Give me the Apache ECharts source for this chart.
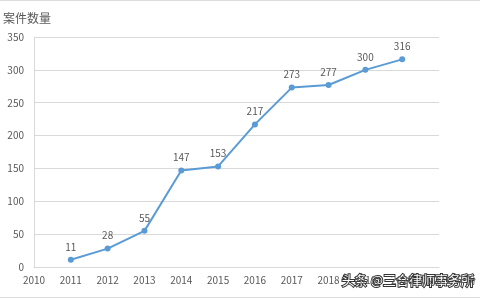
<!DOCTYPE html>
<html><head><meta charset="utf-8">
<script src="https://cdn.jsdelivr.net/npm/echarts@6/dist/echarts.min.js"></script>
<style>html,body{margin:0;padding:0;background:#fff}#c{width:480px;height:300px}</style>
</head><body><div id="c"></div>
<script>
var years = ['2010','2011','2012','2013','2014','2015','2016','2017','2018','2019','2020','2021'];
var cases = [null, 11, 28, 55, 147, 153, 217, 273, 277, 300, 316, null];
var yTicks = [0, 50, 100, 150, 200, 250, 300, 350];
var chart = echarts.init(document.getElementById('c'));
var font = '"Noto Sans CJK SC","Microsoft YaHei",sans-serif';
chart.setOption({
  animation: false,
  textStyle: {fontFamily: font},
  grid: {left: 33, right: 41, top: 37, bottom: 33},
  xAxis: {
    type: 'category', data: years, boundaryGap: false,
    name: '年份', nameGap: 14,
    nameTextStyle: {color: '#595959', fontSize: 10, fontFamily: font, verticalAlign: 'top', padding: [8,0,0,0]},
    axisLine: {lineStyle: {color: '#d9d9d9'}},
    axisTick: {show: false},
    axisLabel: {color: '#595959', fontSize: 10, margin: 8, fontFamily: font, interval: 0}
  },
  yAxis: {
    type: 'value', min: yTicks[0], max: yTicks[yTicks.length-1], interval: 50,
    name: '案件数量', nameLocation: 'end', nameGap: 13,
    nameTextStyle: {color: '#595959', fontSize: 12, align: 'left', padding: [0,0,0,-31], fontFamily: font},
    axisLine: {show: true, lineStyle: {color: '#d9d9d9'}},
    axisTick: {show: false},
    splitLine: {lineStyle: {color: '#d9d9d9'}},
    axisLabel: {color: '#595959', fontSize: 10, margin: 10, fontFamily: font}
  },
  series: [{
    type: 'line', data: cases, connectNulls: false,
    symbol: 'circle', symbolSize: 6,
    lineStyle: {color: '#5b9bd5', width: 2},
    itemStyle: {color: '#5b9bd5'},
    label: {show: true, position: 'top', distance: 5, color: '#595959', fontSize: 10, fontFamily: font}
  }],
  graphic: [
    {type: 'rect', left: 0, top: 0, shape: {width: 480, height: 1}, style: {fill: '#dddddd'}, silent: true},
    {type: 'rect', left: 0, top: 297, shape: {width: 480, height: 1}, style: {fill: '#dddddd'}, silent: true},
    {type: 'text', right: 5, top: 273,
     style: {text: '头条 @三合律师事务所', fill: '#ffffff', stroke: '#333333', lineWidth: 2, fontSize: 13, fontFamily: font}}
  ]
});
</script></body></html>
